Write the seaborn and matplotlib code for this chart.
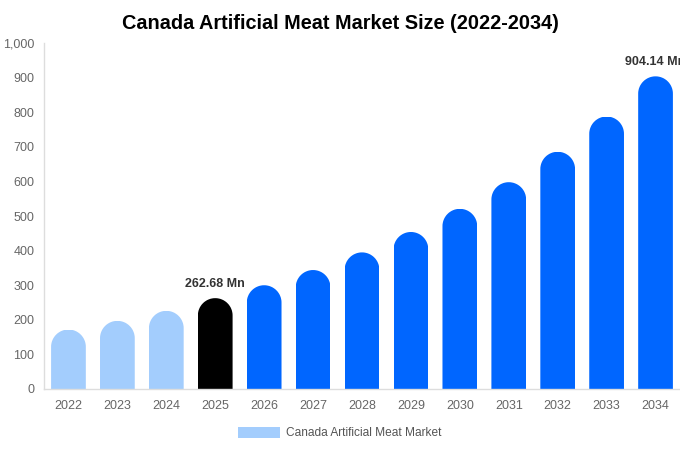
import matplotlib
matplotlib.use("Agg")
import matplotlib.pyplot as plt
import seaborn as sns
import pandas as pd
import numpy as np
from matplotlib.patches import PathPatch, Patch
from matplotlib.path import Path

years = ["2022", "2023", "2024", "2025", "2026", "2027", "2028",
         "2029", "2030", "2031", "2032", "2033", "2034"]
values = [172, 197, 226, 262.68, 300, 344, 395, 454, 521, 598, 686, 788, 904.14]
bar_colors = ["#a3cdfd", "#a3cdfd", "#a3cdfd", "#000000"] + ["#0066ff"] * 9
labels = {"2025": "262.68 Mn", "2034": "904.14 Mn"}
legend_label = "Canada Artificial Meat Market"
title = "Canada Artificial Meat Market Size (2022-2034)"

sns.set_style("white")
plt.rcParams["font.family"] = ["Liberation Sans", "DejaVu Sans"]

df = pd.DataFrame({"year": years, "value": values})
fig = plt.figure(figsize=(6.8, 4.5), dpi=100)
ax = fig.add_axes([0.0647, 0.1356, 0.9353, 0.7684])

sns.barplot(data=df, x="year", y="value", hue="year",
            palette=dict(zip(years, bar_colors)), legend=False,
            width=0.71, ax=ax, saturation=1)

ax.set_ylim(0, 1000)
ax.set_xlim(-0.5, len(years) - 0.5)
fig.canvas.draw()

# rounded tops: clip each bar to a shape with a semicircular top
px_per_y = ax.transData.transform((0, 1))[1] - ax.transData.transform((0, 0))[1]
px_per_x = ax.transData.transform((1, 0))[0] - ax.transData.transform((0, 0))[0]
unit_arc = Path.arc(0, 180, n=16)
for p in list(ax.patches):
    w = p.get_width()
    h = p.get_height()
    x0 = p.get_x()
    rx = w / 2
    ry = rx * px_per_x / px_per_y
    cx, cy = x0 + rx, h - ry
    arc_v = unit_arc.vertices * np.array([rx, ry]) + np.array([cx, cy])
    arc_c = unit_arc.codes.copy()
    arc_c[0] = Path.LINETO
    verts = np.vstack([[[x0 + w, -10]], arc_v, [[x0, -10]], [[x0 + w, -10]]])
    codes = np.concatenate([[Path.MOVETO], arc_c, [Path.LINETO], [Path.CLOSEPOLY]])
    clip = PathPatch(Path(verts, codes), transform=ax.transData)
    p.set_linewidth(0)
    p.set_clip_path(clip)

for i, y in enumerate(years):
    if y in labels:
        ax.annotate(labels[y], (i, values[i]), xytext=(0, 6),
                    textcoords="offset points", ha="center", va="bottom",
                    fontsize=9, fontweight="bold", color="#333333",
                    annotation_clip=False)

ax.set_yticks(range(0, 1001, 100))
ax.set_yticklabels([f"{v:,}" for v in range(0, 1001, 100)])
ax.tick_params(axis="both", colors="#666666", labelsize=9, length=0, pad=8)
ax.tick_params(axis="y", pad=7)
ax.set_xlabel("")
ax.set_ylabel("")
for s in ["top", "right"]:
    ax.spines[s].set_visible(False)
for s in ["left", "bottom"]:
    ax.spines[s].set_color("#dddddd")
    ax.spines[s].set_linewidth(1)

fig.suptitle(title, x=0.5, y=0.968, fontsize=14.3, fontweight="bold", color="#000000")

leg = fig.legend(handles=[Patch(facecolor="#a3cdfd", edgecolor="none", label=legend_label)],
                 loc="center", bbox_to_anchor=(0.5, 0.037), frameon=False,
                 fontsize=8.6, handlelength=3.5, handleheight=0.95, handletextpad=0.55)
for t in leg.get_texts():
    t.set_color("#555555")

fig.savefig("out.png", dpi=100)
